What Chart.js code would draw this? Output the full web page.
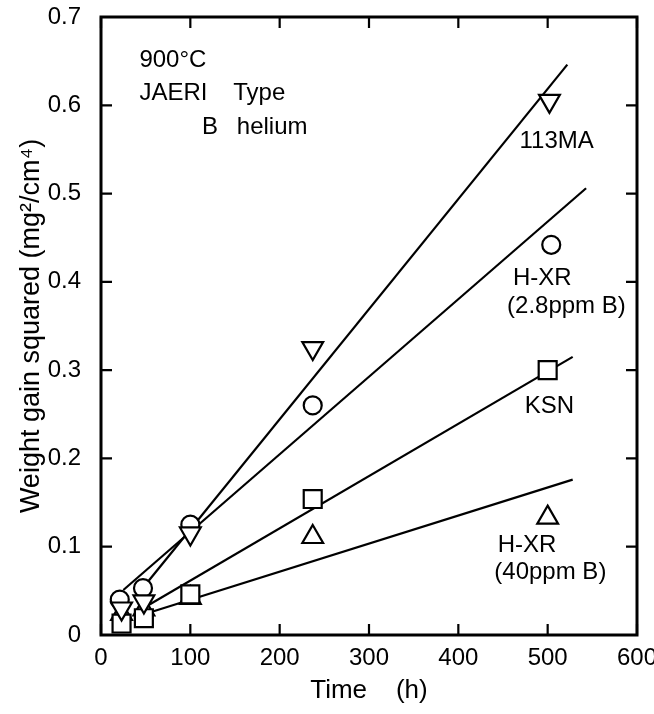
<!DOCTYPE html>
<html>
<head>
<meta charset="utf-8">
<script src="https://cdn.jsdelivr.net/npm/chart.js@4"></script>
<style>
  html, body { margin: 0; padding: 0; background: #fff; }
  #wrap { width: 654px; height: 714px; }
</style>
</head>
<body>
<div id="wrap"><canvas id="chart" width="654" height="714"></canvas></div>
<script>
// Measured points (time in h, weight gain squared in mg2/cm4)
const timeDown = [23, 48, 100, 237, 502];       // 113MA (down triangle)
const gainDown = [0.030, 0.038, 0.115, 0.325, 0.605];
const timeCircle = [21, 47, 100, 237, 504];     // H-XR (2.8ppm B)
const gainCircle = [0.040, 0.053, 0.125, 0.260, 0.442];
const timeSquare = [23, 48, 100, 237, 500];     // KSN
const gainSquare = [0.013, 0.019, 0.046, 0.154, 0.300];
const timeTri = [23, 48, 100, 237, 500];        // H-XR (40ppm B)
const gainTri = [0.024, 0.029, 0.042, 0.111, 0.133];

// Fitted straight lines: [start, end] in data units
const fitDownX = [45, 522];
const fitDownY = [0.051, 0.646];
const fitCircleX = [25, 543];
const fitCircleY = [0.051, 0.506];
const fitSquareX = [50, 528];
const fitSquareY = [0.032, 0.315];
const fitTriX = [50, 528];
const fitTriY = [0.024, 0.176];

// Axis ticks
const xTicks = [0, 100, 200, 300, 400, 500, 600];
const yTicks = [0, 0.1, 0.2, 0.3, 0.4, 0.5, 0.6, 0.7];

// Text notes inside the plot (data coordinates)
const noteText = ['900°C', 'JAERI', 'Type', 'B', 'helium', '113MA', 'H-XR', '(2.8ppm B)', 'KSN', 'H-XR', '(40ppm B)'];
const noteX = [43, 43, 148, 113, 152, 510, 494, 521, 502, 477, 503];
const noteY = [0.651, 0.613, 0.613, 0.575, 0.575, 0.559, 0.404, 0.372, 0.259, 0.102, 0.071];
const noteAlign = ['left', 'left', 'left', 'left', 'left', 'center', 'center', 'center', 'center', 'center', 'center'];

const FONT = "'Liberation Sans', Arial, sans-serif";

function pts(xs, ys) {
    return xs.map((x, i) => ({ x: x, y: ys[i] }));
}

function markerSet(label, xs, ys, style, radius, rotation) {
    return {
        type: 'scatter',
        label: label,
        data: pts(xs, ys),
        pointStyle: style,
        pointRadius: radius,
        pointHoverRadius: radius,
        pointRotation: rotation,
        pointBackgroundColor: '#fff',
        pointBorderColor: '#000',
        pointBorderWidth: 2.2,
        order: 1
    };
}

function fitLine(label, xs, ys) {
    return {
        type: 'line',
        label: label,
        data: pts(xs, ys),
        borderColor: '#000',
        borderWidth: 2.2,
        pointRadius: 0,
        fill: false,
        order: 2
    };
}

// Frame with inward tick marks on all four sides
const framePlugin = {
    id: 'frame',
    afterDatasetsDraw(chart) {
        const { ctx, chartArea: a, scales: { x, y } } = chart;
        const len = 11;
        ctx.save();
        ctx.strokeStyle = '#000';
        ctx.lineWidth = 2.2;
        ctx.beginPath();
        x.ticks.forEach(t => {
            const px = x.getPixelForValue(t.value);
            ctx.moveTo(px, a.bottom); ctx.lineTo(px, a.bottom - len);
            ctx.moveTo(px, a.top); ctx.lineTo(px, a.top + len);
        });
        y.ticks.forEach(t => {
            const py = y.getPixelForValue(t.value);
            ctx.moveTo(a.left, py); ctx.lineTo(a.left + len, py);
            ctx.moveTo(a.right, py); ctx.lineTo(a.right - len, py);
        });
        ctx.stroke();
        ctx.lineWidth = 3;
        ctx.strokeRect(a.left, a.top, a.right - a.left, a.bottom - a.top);
        ctx.restore();
    }
};

// Text notes
const notePlugin = {
    id: 'notes',
    afterDatasetsDraw(chart) {
        const { ctx, scales: { x, y } } = chart;
        ctx.save();
        ctx.fillStyle = '#000';
        ctx.font = '24px ' + FONT;
        ctx.textBaseline = 'middle';
        noteText.forEach((s, i) => {
            ctx.textAlign = noteAlign[i];
            ctx.fillText(s, x.getPixelForValue(noteX[i]), y.getPixelForValue(noteY[i]));
        });
        ctx.restore();
    }
};

const ctx = document.getElementById('chart').getContext('2d');
new Chart(ctx, {
    data: {
        datasets: [
            markerSet('113MA', timeDown, gainDown, 'triangle', 12, 180),
            markerSet('H-XR (2.8ppm B)', timeCircle, gainCircle, 'circle', 9, 0),
            markerSet('KSN', timeSquare, gainSquare, 'rect', 12.7, 0),
            markerSet('H-XR (40ppm B)', timeTri, gainTri, 'triangle', 12, 0),
            fitLine('113MA fit', fitDownX, fitDownY),
            fitLine('H-XR (2.8ppm B) fit', fitCircleX, fitCircleY),
            fitLine('KSN fit', fitSquareX, fitSquareY),
            fitLine('H-XR (40ppm B) fit', fitTriX, fitTriY)
        ]
    },
    options: {
        responsive: false,
        animation: false,
        layout: { padding: { left: 0, right: 17, top: 17, bottom: 0 } },
        plugins: {
            legend: { display: false },
            tooltip: { enabled: false }
        },
        scales: {
            x: {
                type: 'linear',
                min: 0,
                max: 600,
                afterBuildTicks(scale) {
                    scale.ticks = xTicks.map(v => ({ value: v }));
                },
                afterFit(scale) {
                    scale.height = 79;
                    scale.paddingLeft = 0;
                    scale.paddingRight = 0;
                },
                grid: { display: false, drawTicks: false },
                border: { display: false },
                ticks: {
                    color: '#000',
                    padding: 9,
                    maxRotation: 0,
                    font: { family: FONT, size: 24 }
                },
                title: {
                    display: true,
                    text: 'Time    (h)',
                    color: '#000',
                    align: 'center',
                    padding: { top: 0, bottom: 8 },
                    font: { family: FONT, size: 26 }
                }
            },
            y: {
                type: 'linear',
                min: 0,
                max: 0.7,
                afterBuildTicks(scale) {
                    scale.ticks = yTicks.map(v => ({ value: v }));
                },
                afterFit(scale) {
                    scale.width = 101;
                    scale.paddingTop = 0;
                    scale.paddingBottom = 0;
                },
                grid: { display: false, drawTicks: false },
                border: { display: false },
                ticks: {
                    color: '#000',
                    padding: 20,
                    font: { family: FONT, size: 24 },
                    callback: v => (v === 0 ? '0' : v.toFixed(1))
                },
                title: {
                    display: true,
                    text: 'Weight gain squared (mg²/cm⁴)',
                    color: '#000',
                    padding: { top: 15, bottom: 0 },
                    font: { family: FONT, size: 27 }
                }
            }
        }
    },
    plugins: [framePlugin, notePlugin]
});
</script>
</body>
</html>
